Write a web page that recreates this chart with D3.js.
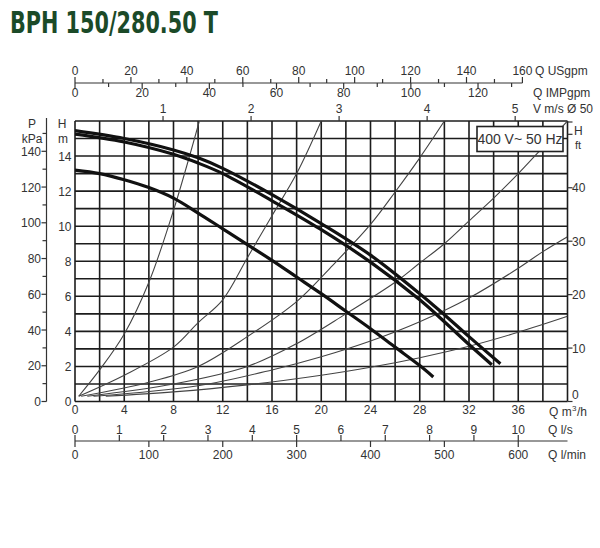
<!DOCTYPE html>
<html><head><meta charset="utf-8">
<script src="https://cdn.jsdelivr.net/npm/d3@7"></script>
<style>
body{margin:0;background:#fff}
svg{display:block}
text{font-family:"Liberation Sans",Arial,sans-serif;fill:#333}
</style>
</head><body>
<svg id="c" width="600" height="548"></svg>
<script>
// ---- data ----
const title = "BPH 150/280.50 T";
const boxLabel = "400 V~ 50 Hz";
const qM3hTicks = [0,4,8,12,16,20,24,28,32,36];
const usgpmTicks = [0,20,40,60,80,100,120,140,160];
const usgpmMinor = [10,30,50,70,90,110,130,150];
const impgpmTicks = [0,20,40,60,80,100,120];
const impgpmMinor = [10,30,50,70,90,110,130];
const vTicks = [1,2,3,4,5];
const lsTicks = [0,1,2,3,4,5,6,7,8,9,10];
const lminTicks = [0,100,200,300,400,500,600];
const hTicks = [0,2,4,6,8,10,12,14];
const kpaTicks = [0,20,40,60,80,100,120,140];
const kpaMinor = [10,30,50,70,90,110,130,150];
const ftTicks = [0,10,20,30,40];
const ftMinor = [50];

// pump curves [Q m3/h, H m]
const pumpHigh = [[0,15.45],[4,15.0],[8,14.35],[10,13.9],[12,13.3],[16,11.8],[20,10.15],[24,8.35],[28,6.15],[30,4.95],[32,3.7],[34.55,2.15]];
const pumpMid  = [[0,15.25],[4,14.8],[8,14.1],[10,13.6],[12,13.0],[16,11.45],[20,9.8],[24,7.95],[28,5.8],[30,4.55],[32,3.25],[33.85,2.1]];
const pumpLow  = [[0,13.2],[2,13.0],[4,12.65],[6,12.2],[8,11.6],[10,10.75],[12,9.85],[14,8.95],[16,8.05],[18,7.1],[20,6.15],[22,5.15],[24,4.15],[26,3.1],[28,2.05],[29.1,1.4]];

// thin system/velocity curves
const sys1 = [[0.3,0.3],[2,1.8],[4,3.85],[6,6.8],[8,10.9],[10.1,16]];
const sys2 = [[0.3,0.3],[4,1.5],[8,3.1],[10,4.5],[12,5.8],[14,8.2],[16,10.6],[18,13.0],[20,16]];
const sys3 = [[0.5,0.3],[6,1.1],[10,2.0],[14,3.7],[18,5.7],[20.7,7.6],[24,10.1],[26,11.95],[28,13.9],[30,16]];
const sys4 = [[1,0.3],[8,1.0],[14,2.0],[18,3.3],[22,5.0],[26,6.8],[28,7.9],[30,9.0],[32,10.3],[34,11.6],[36,13.0],[38,14.5],[40,16]];
const sys5 = [[1.5,0.3],[10,0.9],[16,1.8],[20,2.55],[24,3.45],[28,4.55],[32,5.9],[36,7.6],[38,8.55],[40,9.4]];
const sys6 = [[2.5,0.3],[8,0.55],[14,0.95],[20,1.5],[24,1.95],[28,2.5],[32,3.15],[36,3.95],[40,4.86]];

// unit conversions to m3/h and m
const USGPM = 0.22712, IMPGPM = 0.27277, LS = 3.6, LMIN = 0.06, VMS = 7.15;
const KPA = 1/9.81, FT = 0.3048;

// ---- layout ----
const svg = d3.select("#c");
const x = d3.scaleLinear().domain([0,40]).range([75,567.5]);
const y = d3.scaleLinear().domain([0,16]).range([401.5,121]);
const fs = 12;

// title
svg.append("text").attr("x",10).attr("y",33).text(title)
  .style("font-family",'"Liberation Sans Narrow","DejaVu Sans Condensed",sans-serif')
  .style("font-weight","bold").style("font-size","31px").style("fill","#1b4a28")
  .attr("textLength",208).attr("lengthAdjust","spacingAndGlyphs");

// grid
const grid = svg.append("g").attr("stroke","#1c1c1c").attr("stroke-width",1.6);
d3.range(0,41,2).forEach(q=>grid.append("line").attr("x1",x(q)).attr("x2",x(q)).attr("y1",y(0)).attr("y2",y(16)));
d3.range(0,17,1).forEach(h=>grid.append("line").attr("x1",x(0)).attr("x2",x(40)).attr("y1",y(h)).attr("y2",y(h)));

// curves
svg.append("clipPath").attr("id","pc").append("rect")
  .attr("x",x(0)).attr("y",y(16)).attr("width",x(40)-x(0)).attr("height",y(0)-y(16));
const line = d3.line().x(d=>x(d[0])).y(d=>y(d[1])).curve(d3.curveCatmullRom.alpha(0.5));
const cg = svg.append("g").attr("clip-path","url(#pc)");
[sys1,sys2,sys3,sys4,sys5,sys6].forEach(s=>cg.append("path").attr("d",line(s))
  .attr("fill","none").attr("stroke","#444").attr("stroke-width",1.1));
[pumpHigh,pumpMid,pumpLow].forEach(s=>cg.append("path").attr("d",line(s))
  .attr("fill","none").attr("stroke","#111").attr("stroke-width",3.2).attr("stroke-linecap","butt"));

// box label
const bx = svg.append("g");
bx.append("rect").attr("x",477).attr("y",126.5).attr("width",86).attr("height",25)
  .attr("fill","#fff").attr("stroke","#222").attr("stroke-width",1.6);
bx.append("text").attr("x",520).attr("y",144).attr("text-anchor","middle")
  .style("font-size","14px").text(boxLabel);

const ax = svg.append("g").attr("stroke","#333").attr("stroke-width",1.2);
function txt(xp,yp,s,anchor,size){
  return svg.append("text").attr("x",xp).attr("y",yp).attr("text-anchor",anchor||"middle")
    .style("font-size",(size||fs)+"px").text(s);
}

// bottom Q m3/h labels
qM3hTicks.forEach(q=>txt(x(q),413.5,q));
txt(549,415.5,"Q m","start");
svg.append("text").attr("x",572).attr("y",410.5).style("font-size","8px").text("3");
txt(577,415.5,"/h","start");

// top axes: USgpm (above) & IMPgpm (below)
const yTop = 83;
ax.append("line").attr("x1",x(0)).attr("x2",x(160*USGPM)).attr("y1",yTop).attr("y2",yTop);
usgpmTicks.forEach(v=>{ax.append("line").attr("x1",x(v*USGPM)).attr("x2",x(v*USGPM)).attr("y1",yTop).attr("y2",yTop-6); txt(x(v*USGPM),75,v);});
usgpmMinor.forEach(v=>ax.append("line").attr("x1",x(v*USGPM)).attr("x2",x(v*USGPM)).attr("y1",yTop).attr("y2",yTop-4));
impgpmTicks.forEach(v=>{ax.append("line").attr("x1",x(v*IMPGPM)).attr("x2",x(v*IMPGPM)).attr("y1",yTop).attr("y2",yTop+6); txt(x(v*IMPGPM),97,v);});
impgpmMinor.forEach(v=>ax.append("line").attr("x1",x(v*IMPGPM)).attr("x2",x(v*IMPGPM)).attr("y1",yTop).attr("y2",yTop+4));
txt(535,75,"Q USgpm","start");
txt(533,97,"Q IMPgpm","start");
txt(533,113,"V m/s Ø 50","start");

// velocity ticks on top border
vTicks.forEach(v=>{ax.append("line").attr("x1",x(v*VMS)).attr("x2",x(v*VMS)).attr("y1",y(16)).attr("y2",y(16)-5); txt(x(v*VMS),113,v);});

// bottom l/s & l/min axis
const yBot = 441;
ax.append("line").attr("x1",x(0)).attr("x2",x(40)).attr("y1",yBot).attr("y2",yBot);
lsTicks.forEach(v=>{ax.append("line").attr("x1",x(v*LS)).attr("x2",x(v*LS)).attr("y1",yBot).attr("y2",yBot-6); txt(x(v*LS),433.5,v);});
lminTicks.forEach(v=>{ax.append("line").attr("x1",x(v*LMIN)).attr("x2",x(v*LMIN)).attr("y1",yBot).attr("y2",yBot+6); txt(x(v*LMIN),458.5,v);});
txt(548,433.5,"Q l/s","start");
txt(548,458.5,"Q l/min","start");

// left H m labels
hTicks.forEach(h=>txt(71.5,y(h)+4.5,h,"end"));
txt(62,128,"H");
txt(63,143,"m");

// kPa axis
const xk = 46.5;
ax.append("line").attr("x1",xk).attr("x2",xk).attr("y1",y(0)).attr("y2",118);
kpaTicks.forEach(p=>{ax.append("line").attr("x1",xk-5).attr("x2",xk).attr("y1",y(p*KPA)).attr("y2",y(p*KPA)); txt(41,y(p*KPA)+4.5,p,"end");});
kpaMinor.forEach(p=>ax.append("line").attr("x1",xk-4).attr("x2",xk).attr("y1",y(p*KPA)).attr("y2",y(p*KPA)));
txt(32,128,"P");
txt(32,143,"kPa");

// right ft axis
ftTicks.forEach(f=>{ax.append("line").attr("x1",x(40)).attr("x2",x(40)+5).attr("y1",y(f*FT)).attr("y2",y(f*FT)); txt(572,y(f*FT)+(f===0?-2.5:4.5),f,"start");});
ftMinor.forEach(f=>ax.append("line").attr("x1",x(40)).attr("x2",x(40)+5).attr("y1",y(f*FT)).attr("y2",y(f*FT)));
ax.append("line").attr("x1",x(40)).attr("x2",x(40)+5).attr("y1",y(16)+1).attr("y2",y(16)+1);
txt(574,135,"H","start");
txt(575,149,"ft","start",11);
</script>
</body></html>
